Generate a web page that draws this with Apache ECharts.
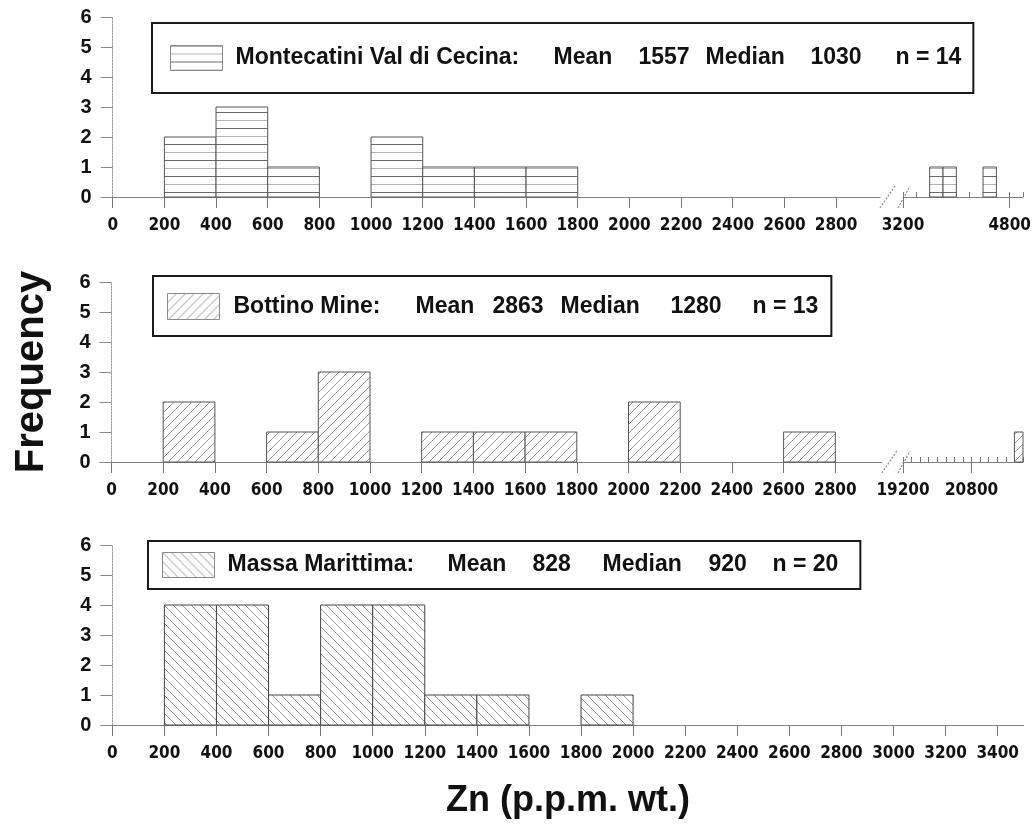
<!DOCTYPE html>
<html><head><meta charset="utf-8">
<script src="https://cdn.jsdelivr.net/npm/echarts@6/dist/echarts.min.js"></script>
<style>html,body{margin:0;padding:0;background:#fff}#c{width:1034px;height:825px}</style>
</head><body><div id="c"></div>
<script>
// ---------------- data ----------------
const BIN = 200;
const montecatiniBins   = [200, 400, 600, 1000, 1200, 1400, 1600, 3600, 3800, 4400];
const montecatiniCounts = [2, 3, 1, 2, 1, 1, 1, 1, 1, 1];
const bottinoBins   = [200, 600, 800, 1200, 1400, 1600, 2000, 2600, 21800];
const bottinoCounts = [2, 1, 3, 1, 1, 1, 2, 1, 1];
const massaBins   = [200, 400, 600, 800, 1000, 1200, 1400, 1800];
const massaCounts = [4, 4, 1, 4, 4, 1, 1, 1];

const siteNames    = ['Montecatini Val di Cecina:', 'Bottino Mine:', 'Massa Marittima:'];
const meanValues   = [1557, 2863, 828];
const medianValues = [1030, 1280, 920];
const nValues      = [14, 13, 20];

const yTicks = [0, 1, 2, 3, 4, 5, 6];
const xTicksLow = [0, 200, 400, 600, 800, 1000, 1200, 1400, 1600, 1800, 2000, 2200, 2400, 2600, 2800];
const xTicksMassa = [0, 200, 400, 600, 800, 1000, 1200, 1400, 1600, 1800, 2000, 2200, 2400, 2600, 2800, 3000, 3200, 3400];
const xTicksMontecatiniHigh = [3200, 4800];
const xTicksBottinoHigh = [19200, 20800];
// axis ranges of the segments
const montecatiniLow = [0, 2970], montecatiniHigh = [3200, 5000];
const bottinoLow = [0, 2980], bottinoHigh = [19200, 22000];
const massaRange = [0, 3500];

// ---------------- styles ----------------
const FONT = "'Liberation Sans', Arial, sans-serif";
const NARROW = "'Liberation Sans Narrow', 'Arial Narrow', 'DejaVu Sans Condensed', sans-serif";

function makePattern(kind) {
  const c = document.createElement('canvas');
  const g = c.getContext('2d');
  if (kind === 'h') {
    c.width = 8; c.height = 16;
    g.fillStyle = '#fff'; g.fillRect(0, 0, 8, 16);
    g.fillStyle = '#6a6a6a'; g.fillRect(0, 0, 8, 1);
    g.fillStyle = '#b4b4b4'; g.fillRect(0, 8, 8, 1);
  } else {
    const s = 9; c.width = s; c.height = s;
    g.fillStyle = '#fff'; g.fillRect(0, 0, s, s);
    g.strokeStyle = '#8c8c8c'; g.lineWidth = 0.9;
    g.beginPath();
    if (kind === 'f') {
      g.moveTo(-1, s + 1); g.lineTo(s + 1, -1);
      g.moveTo(-s / 2 - 1, s / 2 + 1); g.lineTo(s / 2 + 1, -s / 2 - 1);
      g.moveTo(s / 2 - 1, s * 1.5 + 1); g.lineTo(s * 1.5 + 1, s / 2 - 1);
    } else {
      g.moveTo(-1, -1); g.lineTo(s + 1, s + 1);
      g.moveTo(-s / 2 - 1, s / 2 - 1); g.lineTo(s / 2 + 1, s * 1.5 + 1);
      g.moveTo(s / 2 - 1, -s / 2 - 1); g.lineTo(s * 1.5 + 1, s / 2 + 1);
    }
    g.stroke();
  }
  return { image: c, repeat: 'repeat' };
}
const fills = [makePattern('h'), makePattern('f'), makePattern('b')];
const strokes = ['#555', '#555', '#444'];

function histSeries(name, bins, counts, range, xi, yi, fill, stroke) {
  const data = [];
  bins.forEach((b, i) => { if (b >= range[0] && b + BIN <= range[1]) data.push([b, b + BIN, counts[i]]); });
  return {
    type: 'custom', name: name, xAxisIndex: xi, yAxisIndex: yi,
    data: data, encode: { x: [0, 1], y: 2 },
    itemStyle: { color: '#999' },
    renderItem: function (params, api) {
      const p0 = api.coord([api.value(0), 0]);
      const p1 = api.coord([api.value(1), api.value(2)]);
      return {
        type: 'rect',
        shape: { x: p0[0], y: p1[1], width: p1[0] - p0[0], height: p0[1] - p1[1] },
        style: { fill: fill, stroke: stroke, lineWidth: 1 }
      };
    }
  };
}

const plain = function (v) { return String(v); };
const axisLineStyle = { color: '#808080', width: 1 };
function yAxis(gi, show) {
  return {
    type: 'value', gridIndex: gi, min: 0, max: 6, interval: 1, show: show,
    axisLine: { show: true, lineStyle: { color: '#a0a0a0', width: 1, type: [2, 1] } },
    axisTick: { show: true, length: 12, lineStyle: { color: '#888' } },
    axisLabel: { show: true, margin: 21, fontSize: 20, fontWeight: 'bold', fontFamily: FONT, color: '#111', customValues: yTicks, formatter: plain },
    splitLine: { show: false }
  };
}
function xAxis(gi, range, labels, extra) {
  return Object.assign({
    type: 'value', gridIndex: gi, min: range[0], max: range[1],
    axisLine: { show: true, onZero: false, lineStyle: axisLineStyle },
    axisTick: { show: true, length: 11, lineStyle: { color: '#777' }, customValues: labels },
    axisLabel: { show: true, margin: 20, fontSize: 17, fontWeight: 'bold', fontFamily: NARROW, color: '#111', customValues: labels, formatter: plain },
    splitLine: { show: false }
  }, extra || {});
}
function minorAxis(gi, range) {
  return {
    type: 'value', gridIndex: gi, min: range[0], max: range[1], interval: BIN,
    axisLine: { show: false },
    axisTick: { show: true, length: 5, lineStyle: { color: '#777' } },
    axisLabel: { show: false }, splitLine: { show: false }
  };
}

function legend(i, box, widths, pad) {
  const rich = {};
  const keys = ['a', 'b', 'c', 'd', 'e', 'f'];
  keys.forEach((k, j) => {
    rich[k] = { width: widths[j], fontSize: 23, fontWeight: 'bold', fontFamily: FONT, color: '#111' };
  });
  rich.a.padding = [0, 0, 0, pad];
  return {
    show: true, left: box[0], top: box[1], orient: 'horizontal',
    padding: box[2], itemWidth: 52, itemHeight: box[3], icon: 'rect',
    borderColor: '#1a1a1a', borderWidth: 2, selectedMode: false,
    data: [{ name: siteNames[i], icon: 'rect', itemStyle: { color: fills[i], borderColor: '#8a8a8a', borderWidth: 1 } }],
    textStyle: { fontSize: 23, fontWeight: 'bold', fontFamily: FONT, color: '#111', rich: rich },
    formatter: function (name) {
      return '{a|' + name + '}{b|Mean}{c|' + meanValues[i] + '}{d|Median}{e|' + medianValues[i] + '}{f|n = ' + nValues[i] + '}';
    }
  };
}

const pxLow1 = 51.67, pxHigh1 = 13.4, pxLow2 = 51.7, pxHigh2 = 8.57, px3 = 52.08;
const option = {
  animation: false,
  backgroundColor: '#fff',
  grid: [
    { left: 112.7, top: 17, width: (montecatiniLow[1] - montecatiniLow[0]) / BIN * pxLow1, height: 180 },
    { left: 903, top: 17, width: (montecatiniHigh[1] - montecatiniHigh[0]) / BIN * pxHigh1, height: 180 },
    { left: 111.5, top: 282, width: (bottinoLow[1] - bottinoLow[0]) / BIN * pxLow2, height: 180 },
    { left: 903, top: 282, width: (bottinoHigh[1] - bottinoHigh[0]) / BIN * pxHigh2, height: 180 },
    { left: 112.3, top: 545, width: (massaRange[1] - massaRange[0]) / BIN * px3, height: 180 }
  ],
  xAxis: [
    xAxis(0, montecatiniLow, xTicksLow),
    xAxis(1, montecatiniHigh, xTicksMontecatiniHigh),
    minorAxis(1, montecatiniHigh),
    xAxis(2, bottinoLow, xTicksLow),
    xAxis(3, bottinoHigh, xTicksBottinoHigh),
    minorAxis(3, bottinoHigh),
    xAxis(4, massaRange, xTicksMassa, {
      name: 'Zn (p.p.m. wt.)', nameLocation: 'middle', nameGap: 58,
      nameTextStyle: { fontSize: 36, fontWeight: 'bold', fontFamily: FONT, color: '#111' }
    })
  ],
  yAxis: [
    yAxis(0, true),
    yAxis(1, false),
    Object.assign(yAxis(2, true), {
      name: 'Frequency', nameLocation: 'middle', nameGap: 60,
      nameTextStyle: { fontSize: 40, fontWeight: 'bold', fontFamily: FONT, color: '#111' }
    }),
    yAxis(3, false),
    yAxis(4, true)
  ],
  legend: [
    legend(0, [152, 23, [22, 12, 22, 18], 25], [318, 85, 67, 105, 85, 63], 8),
    legend(1, [153, 276, [17, 13, 16, 14], 26], [182, 77, 68, 110, 82, 63], 9),
    legend(2, [148, 541, [11, 22, 11, 14], 25], [220, 85, 70, 106, 64, 66], 8)
  ],
  series: [
    histSeries(siteNames[0], montecatiniBins, montecatiniCounts, montecatiniLow, 0, 0, fills[0], strokes[0]),
    histSeries(siteNames[0], montecatiniBins, montecatiniCounts, montecatiniHigh, 1, 1, fills[0], strokes[0]),
    histSeries(siteNames[1], bottinoBins, bottinoCounts, bottinoLow, 3, 2, fills[1], strokes[1]),
    histSeries(siteNames[1], bottinoBins, bottinoCounts, bottinoHigh, 4, 3, fills[1], strokes[1]),
    histSeries(siteNames[2], massaBins, massaCounts, massaRange, 6, 4, fills[2], strokes[2])
  ]
};

const chart = echarts.init(document.getElementById('c'), null, { renderer: 'canvas' });
chart.setOption(option);

// axis-break marks placed from the axes' own pixel mapping
function breakMarks(xiLow, lowMax, xiHigh, highMin, yi) {
  const a = chart.convertToPixel({ xAxisIndex: xiLow, yAxisIndex: yi }, [lowMax, 0]);
  const b = chart.convertToPixel({ xAxisIndex: xiHigh, yAxisIndex: yi + 1 }, [highMin, 0]);
  const st = { stroke: '#8a8a8a', lineWidth: 1.2, lineDash: [2, 1.5] };
  return [
    { type: 'line', shape: { x1: a[0], y1: a[1] + 11, x2: a[0] + 15, y2: a[1] - 11 }, style: st, silent: true },
    { type: 'line', shape: { x1: b[0] - 5, y1: b[1] + 11, x2: b[0] + 7, y2: b[1] - 11 }, style: st, silent: true }
  ];
}
chart.setOption({
  graphic: [].concat(
    breakMarks(0, montecatiniLow[1], 1, montecatiniHigh[0], 0),
    breakMarks(3, bottinoLow[1], 4, bottinoHigh[0], 2)
  )
});
</script>
</body></html>
